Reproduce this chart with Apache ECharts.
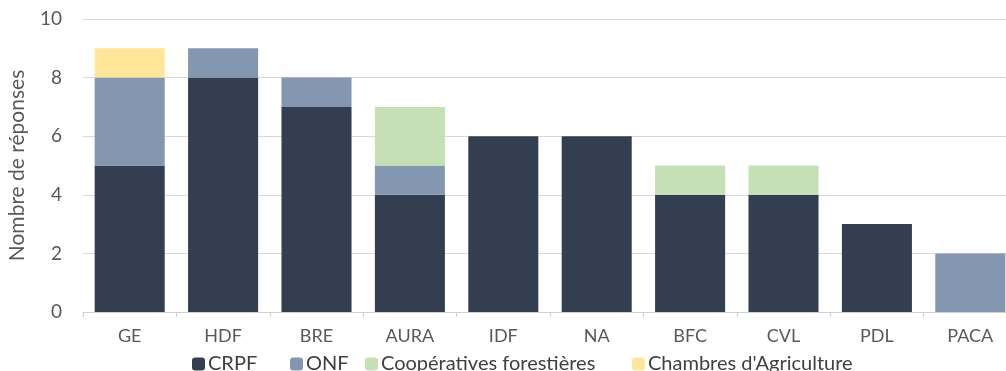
<!DOCTYPE html>
<html><head><meta charset="utf-8">
<script src="https://cdn.jsdelivr.net/npm/echarts@6/dist/echarts.min.js"></script>
<style>html,body{margin:0;padding:0;background:#fff}#c{width:1006px;height:371px}</style>
</head><body><div id="c"></div>
<script>
const categories = ['GE','HDF','BRE','AURA','IDF','NA','BFC','CVL','PDL','PACA'];
const crpf = [5,8,7,4,6,6,4,4,3,0];
const onf = [3,1,1,1,0,0,0,0,0,2];
const coop = [0,0,0,2,0,0,1,1,0,0];
const chambres = [1,0,0,0,0,0,0,0,0,0];
const yTicks = [0,2,4,6,8,10];
const seriesNames = ['CRPF','ONF','Coopératives forestières','Chambres d\'Agriculture'];
const legendLefts = [187, 285, 360, 627];

const font = 'Lato, "Open Sans", sans-serif';
const chart = echarts.init(document.getElementById('c'));
function s(name, data, color){
  return {name, type:'bar', stack:'a', data: data.map(v=>v===0?null:v), barCategoryGap:'25%',
    itemStyle:{color}, emphasis:{disabled:true}};
}
chart.setOption({
  animation:false,
  grid:{left:83, top:19, width:934, height:293, outerBoundsMode:'none', containLabel:false},
  legend: seriesNames.map((n,i)=>({left:legendLefts[i], top:349, itemWidth:13, itemHeight:13,
    textStyle:{fontFamily:font, fontSize:20, color:'#404040', padding:[0,0,0,-2]},
    data:[n]})),
  xAxis:{type:'category', data:categories,
    axisLine:{lineStyle:{color:'#d0d0d0', width:1}},
    axisTick:{show:true, length:5, lineStyle:{color:'#d0d0d0'}},
    axisLabel:{fontFamily:font, fontSize:18, color:'#595959', margin:15}},
  yAxis:{type:'value', min:yTicks[0], max:yTicks[yTicks.length-1], interval:2,
    name:'Nombre de réponses', nameLocation:'middle', nameGap:55,
    nameTextStyle:{fontFamily:font, fontSize:21, color:'#595959'},
    axisLine:{show:false}, axisTick:{show:false},
    axisLabel:{fontFamily:font, fontSize:19, color:'#595959', margin:21},
    splitLine:{lineStyle:{color:'#d9d9d9', width:1}}},
  series:[
    s(seriesNames[0], crpf, '#333f50'),
    s(seriesNames[1], onf, '#8497b0'),
    s(seriesNames[2], coop, '#c5e0b4'),
    s(seriesNames[3], chambres, '#ffe699')
  ]
});
</script></body></html>
